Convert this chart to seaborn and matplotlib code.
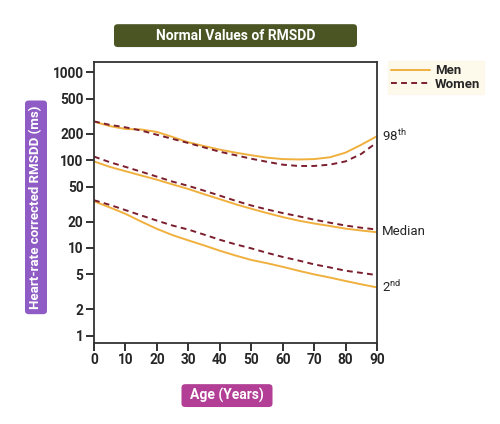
import pandas as pd
import matplotlib.pyplot as plt
import seaborn as sns
from matplotlib.patches import FancyBboxPatch

# ages (years) and RMSDD percentiles (ms)
ages = [0, 5, 10, 15, 20, 25, 30, 35, 40, 45, 50, 55, 60, 65, 70, 75, 80, 85, 90]

men_p98 = [275, 245, 227, 224, 210, 184, 160, 145, 132, 122, 114, 107, 103, 102, 103, 108, 122, 150, 188]
women_p98 = [277, 253, 237, 218, 195, 175, 157, 140, 125, 114, 104, 96, 89, 86, 86, 89, 97, 118, 160]

men_med = [97, 84, 75, 67, 60, 53, 47, 41, 36, 31.5, 28, 25, 22.5, 20.5, 19, 17.8, 16.6, 15.8, 15.1]
women_med = [110, 95, 84, 74, 65, 57, 51, 45, 39.5, 34.5, 30.5, 27.5, 25, 23, 21, 19.4, 18, 17, 16.2]

men_p2 = [34, 29, 24.5, 20, 16.5, 14, 12.2, 10.7, 9.3, 8.2, 7.3, 6.7, 6.1, 5.5, 5.0, 4.6, 4.2, 3.85, 3.55]
women_p2 = [35, 31, 27, 23.5, 20.5, 18, 16.2, 14.2, 12.4, 11, 9.9, 8.8, 7.9, 7.2, 6.5, 6.0, 5.5, 5.2, 4.9]

y_ticks = [1, 2, 5, 10, 20, 50, 100, 200, 500, 1000]
x_ticks = [0, 10, 20, 30, 40, 50, 60, 70, 80, 90]

rows = []
for sex, pct, vals in [("Men", "98", men_p98), ("Women", "98", women_p98),
                       ("Men", "50", men_med), ("Women", "50", women_med),
                       ("Men", "2", men_p2), ("Women", "2", women_p2)]:
    for a, v in zip(ages, vals):
        rows.append({"age": a, "rmssd": v, "sex": sex, "pct": pct})
df = pd.DataFrame(rows)

sns.set_style("white")
plt.rcParams["font.family"] = ["Roboto", "DejaVu Sans"]
plt.rcParams["mathtext.fontset"] = "custom"
plt.rcParams["mathtext.rm"] = "Roboto"

ORANGE = "#F0B03E"
DARKRED = "#7B1E2E"

fig = plt.figure(figsize=(5, 4.24), dpi=100)
ax = fig.add_axes([0.188, 0.191, 0.566, 0.663])

sns.lineplot(data=df, x="age", y="rmssd", hue="sex", style="sex", units="pct",
             estimator=None, palette={"Men": ORANGE, "Women": DARKRED},
             dashes={"Men": "", "Women": (3, 2.2)}, linewidth=1.4, ax=ax)

ax.set_yscale("log")
ax.set_ylim(0.825, 1320)
ax.set_xlim(0, 90)
ax.set_yticks(y_ticks)
ax.set_yticklabels([str(t) for t in y_ticks])
ax.minorticks_off()
ax.set_xticks(x_ticks)
ax.tick_params(axis="both", direction="out", length=5.5, width=1.3, color="#222222",
               labelsize=9.8, pad=2, left=True, bottom=True)
for lab in ax.get_xticklabels() + ax.get_yticklabels():
    lab.set_fontweight("bold")
for s in ax.spines.values():
    s.set_color("#333333")
    s.set_linewidth(1.3)
ax.set_xlabel("")
ax.set_ylabel("")

# legend
handles, labels = ax.get_legend_handles_labels()
ax.legend().remove()
leg = fig.legend(handles, labels, loc="upper left", bbox_to_anchor=(0.776, 0.856),
                 frameon=True, fancybox=False, facecolor="#FDF8E6", edgecolor="#FDF8E6",
                 prop={"weight": "bold", "size": 9.5}, handlelength=2.9,
                 borderpad=0.25, labelspacing=0.05, handletextpad=0.4, borderaxespad=0)

# curve labels on the right
ax.text(91.5, 188, "98$^{\\rm th}$", fontsize=9.5, va="center", ha="left", clip_on=False)
ax.text(91.5, 15.3, "Median", fontsize=9.5, va="center", ha="left", clip_on=False)
ax.text(91.5, 3.6, "2$^{\\rm nd}$", fontsize=9.5, va="center", ha="left", clip_on=False)


def boxed(x0, y0, x1, y1, color, text, rot=0, size=9.5):
    # rounded box in figure fraction, white bold text centred on it
    fig.patches.append(FancyBboxPatch((x0, y0), x1 - x0, y1 - y0,
                                      boxstyle="round,pad=0,rounding_size=0.008",
                                      transform=fig.transFigure, facecolor=color,
                                      edgecolor="none"))
    fig.text((x0 + x1) / 2, (y0 + y1) / 2, text, ha="center", va="center", rotation=rot,
             color="white", fontsize=size, fontweight="bold")


boxed(0.228, 0.889, 0.714, 0.943, "#4A5523", "Normal Values of RMSDD", size=10)
boxed(0.050, 0.259, 0.094, 0.763, "#8E5CC4", "Heart-rate corrected RMSDD (ms)", rot=90)
boxed(0.363, 0.040, 0.545, 0.094, "#B23F95", "Age (Years)", size=10)

fig.savefig("out.png", dpi=100)
